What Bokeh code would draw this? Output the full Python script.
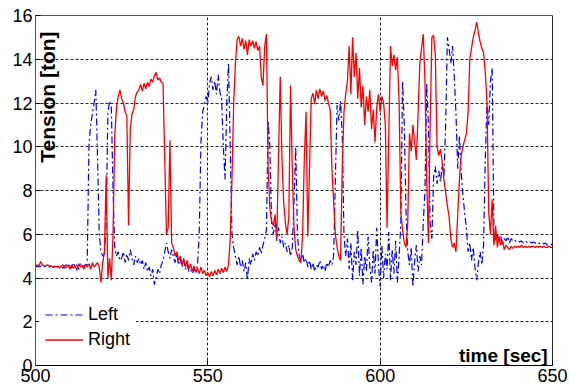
import math
import numpy as np
from bokeh.plotting import figure
from bokeh.models import Range1d, FixedTicker, Label, Span, ColumnDataSource
from bokeh.embed import file_html
from bokeh.resources import INLINE

# time base: samples every 0.5 s from 500 s
T_START = 500.0
T_STEP = 0.5

# Right line tension [ton], one row = 5 s
RIGHT = [
    4.55, 4.6, 4.55, 4.75, 4.6, 4.55, 4.55, 4.6, 4.55, 4.55,
    4.5, 4.55, 4.5, 4.55, 4.45, 4.55, 4.6, 4.45, 4.5, 4.6,
    4.4, 4.6, 4.45, 4.55, 4.35, 4.65, 4.5, 4.6, 4.4, 4.6,
    4.5, 4.65, 4.4, 4.7, 4.5, 4.6, 4.7, 4.5, 3.8, 4.7,
    5.2, 8.7, 4.0, 4.9, 3.9, 6.0, 10.5, 11.8, 12.3, 12.6,
    12.2, 12.0, 11.6, 11.4, 6.4, 10.8, 11.5, 11.7, 12.3, 12.5,
    12.6, 12.85, 12.55, 12.9, 12.65, 12.95, 12.75, 13.1, 12.95, 13.25,
    13.4, 13.05, 13.15, 12.95, 12.9, 9.4, 6.0, 6.3, 10.3, 5.6,
    5.4, 5.0, 5.2, 4.8, 5.0, 4.6, 4.9, 4.5, 4.8, 4.4,
    4.65, 4.3, 4.55, 4.25, 4.45, 4.2, 4.5, 4.2, 4.35, 4.1,
    4.25, 4.05, 4.3, 4.1, 4.35, 4.15, 4.4, 4.2, 4.45, 4.25,
    4.5, 4.3, 4.6, 5.8, 8.5, 12.0, 13.8, 14.9, 15.05, 14.6,
    14.95, 14.45, 14.85, 14.2, 14.9, 14.6, 14.85, 14.5, 14.8, 14.4,
    14.6, 13.2, 12.8, 14.6, 15.15, 9.0, 7.2, 6.6, 6.4, 6.9,
    5.8, 9.5, 13.2, 9.5, 7.5, 6.5, 6.0, 6.8, 12.8, 9.0,
    6.3, 5.3, 5.0, 4.8, 4.7, 6.0, 9.5, 11.6, 5.9, 9.0,
    12.2, 12.45, 11.95, 12.6, 12.2, 12.65, 12.3, 12.55, 12.1, 12.35,
    12.0, 11.7, 9.0, 7.5, 6.0, 5.4, 5.0, 4.8, 9.0, 11.6,
    12.4, 13.0, 14.6, 12.4, 15.0, 13.2, 14.3, 12.2, 13.6, 11.8,
    12.8, 11.0, 12.3, 11.6, 12.6, 10.8, 11.7, 10.2, 11.8, 12.4,
    11.6, 12.3, 12.0, 11.0, 6.3, 10.5, 14.6, 13.7, 14.2, 13.5,
    14.1, 12.0, 7.0, 6.2, 5.6, 5.4, 6.5, 10.6, 9.8, 11.0,
    10.2, 9.4, 11.5, 13.8, 14.5, 15.15, 13.0, 8.5, 5.6, 11.0,
    15.0, 15.1, 14.2, 10.0, 9.6, 9.9, 9.3, 8.5, 7.9, 7.3,
    6.8, 5.8, 5.4, 5.6, 5.2, 6.9, 8.5, 9.6, 10.0, 10.3,
    10.6, 11.5, 14.0, 14.5, 15.0, 15.3, 15.7, 15.2, 14.8, 14.5,
    14.3, 13.4, 12.0, 7.0, 6.0, 7.6, 5.5, 6.4, 5.4, 5.9,
    5.5, 5.7, 5.3, 5.5, 5.4, 5.3, 5.45, 5.35, 5.45, 5.4,
    5.45, 5.4, 5.5, 5.4, 5.45, 5.4, 5.45, 5.4, 5.45, 5.45,
    5.4, 5.45, 5.4, 5.45, 5.4, 5.45, 5.4, 5.4, 5.45, 5.4,
    5.4,
]

# Left line tension [ton], one row = 5 s
LEFT = [
    4.5, 4.55, 4.5, 4.55, 4.5, 4.5, 4.55, 4.5, 4.5, 4.55,
    4.5, 4.5, 4.45, 4.5, 4.55, 4.5, 4.45, 4.55, 4.6, 4.5,
    4.65, 4.45, 4.7, 4.5, 4.6, 4.4, 4.65, 4.5, 4.55, 4.6,
    4.6, 10.0, 11.0, 11.5, 12.0, 12.6, 9.5, 6.0, 5.2, 5.0,
    5.1, 6.5, 11.5, 12.1, 11.8, 8.0, 5.4, 5.0, 5.2, 4.8,
    4.9, 5.2, 4.7, 5.1, 4.8, 5.3, 4.9, 4.6, 5.0, 4.7,
    4.9, 4.6, 4.8, 4.4, 4.7, 4.3, 4.5, 4.1, 4.4, 3.7,
    4.0, 4.4, 4.2, 4.6, 4.8, 5.2, 5.6, 5.2, 4.9, 5.3,
    5.0, 4.7, 5.1, 4.6, 4.9, 4.5, 4.8, 4.4, 4.6, 4.3,
    4.4, 4.2, 4.4, 4.3, 4.6, 6.0, 10.2, 11.6, 11.9, 12.3,
    12.0, 12.9, 13.2, 12.6, 13.0, 12.4, 13.3, 12.5, 12.2, 10.0,
    8.5, 12.0, 13.8, 10.0, 6.0, 5.4, 5.0, 4.6, 5.0, 4.5,
    4.8, 4.3, 4.7, 3.9, 4.9, 4.6, 5.1, 4.8, 5.2, 5.0,
    5.4, 5.1, 5.5, 5.8, 6.2, 11.2, 10.0, 6.5, 6.0, 6.6,
    5.7, 6.3, 5.6, 5.9, 5.4, 5.6, 5.2, 5.5, 5.0, 5.4,
    7.5, 10.0, 6.0, 5.0, 4.8, 5.1, 4.7, 4.9, 4.5, 4.8,
    4.4, 4.7, 4.3, 4.6, 4.5, 4.8, 4.4, 4.6, 4.3, 4.7,
    4.5, 4.8, 4.6, 5.0, 8.5, 11.9, 11.2, 12.1, 10.5, 6.0,
    5.0, 5.8, 4.4, 5.6, 3.9, 5.2, 4.6, 6.2, 4.1, 5.4,
    3.7, 5.0, 4.3, 5.9, 4.5, 3.8, 5.3, 4.2, 6.3, 4.6,
    3.6, 5.5, 4.0, 5.1, 4.4, 6.1, 3.9, 5.3, 4.2, 5.7,
    3.8, 5.0, 6.5, 13.0, 11.0, 7.0, 5.2, 4.6, 5.4, 3.6,
    4.8, 5.5, 4.3, 5.0, 4.6, 6.5, 8.0, 12.9, 11.0, 6.5,
    5.8, 8.6, 9.1, 8.3, 8.9, 8.4, 9.2, 8.6, 11.0, 15.0,
    14.5, 13.8, 14.6, 13.2, 11.5, 9.0, 10.5, 8.8, 7.8, 7.0,
    6.3, 5.2, 5.6, 4.8, 5.4, 4.5, 3.9, 4.7, 5.2, 4.6,
    5.5, 9.5, 12.0, 11.0, 13.0, 13.6, 6.2, 5.7, 6.0, 5.6,
    5.9, 5.5, 5.8, 5.7, 5.9, 5.6, 5.8, 5.7, 5.75, 5.65,
    5.7, 5.65, 5.7, 5.6, 5.7, 5.65, 5.6, 5.65, 5.6, 5.65,
    5.6, 5.55, 5.6, 5.55, 5.6, 5.55, 5.6, 5.5, 5.55, 5.55,
    5.5,
]

X_TICKS = [500, 550, 600, 650]
Y_TICKS = [0, 2, 4, 6, 8, 10, 12, 14, 16]
SERIES_NAMES = ["Left", "Right"]
X_LABEL = "time [sec]"
Y_LABEL = "Tension [ton]"

t = T_START + T_STEP * np.arange(len(RIGHT))
src = ColumnDataSource(dict(t=t, left=np.array(LEFT), right=np.array(RIGHT)))

FONT = "Liberation Sans"

p = figure(width=581, height=390, output_backend="svg", toolbar_location=None,
           x_range=Range1d(500, 650), y_range=Range1d(0, 16),
           min_border_left=35, min_border_right=29, min_border_top=15,
           min_border_bottom=25)
p.background_fill_color = "white"
p.border_fill_color = "white"
p.outline_line_color = "#555555"
p.outline_line_width = 1

for ax in (p.xaxis[0], p.yaxis[0]):
    ax.major_label_text_font = FONT
    ax.major_label_text_font_size = "18px"
    ax.major_label_text_color = "black"
    ax.major_tick_in = 5
    ax.major_tick_out = 0
    ax.minor_tick_in = 0
    ax.minor_tick_out = 0
    ax.major_tick_line_color = "black"
p.xaxis.ticker = FixedTicker(ticks=X_TICKS)
p.yaxis.ticker = FixedTicker(ticks=Y_TICKS)
p.xaxis.axis_line_color = "black"
p.yaxis.axis_line_color = "#555555"
p.xaxis.major_label_standoff = 3
p.yaxis.major_label_standoff = 3

p.xgrid.ticker = FixedTicker(ticks=X_TICKS)
p.ygrid.ticker = FixedTicker(ticks=Y_TICKS)
for g in (p.xgrid[0], p.ygrid[0]):
    g.grid_line_color = "#000000"
    g.grid_line_alpha = 0.85
    g.grid_line_dash = "3 2"
    g.grid_line_width = 1

p.line("t", "left", source=src, line_color="#0000FF", line_width=1.2,
       line_dash="7 3 2 3", legend_label=SERIES_NAMES[0])
p.line("t", "right", source=src, line_color="#FF0000", line_width=1.3,
       legend_label=SERIES_NAMES[1])

p.add_layout(Span(location=650, dimension="height", line_color="black", line_width=1))

p.add_layout(Label(x=503.6, y=12.27, text=Y_LABEL, angle=math.pi / 2,
                   text_align="center", text_baseline="middle",
                   text_font=FONT, text_font_style="bold", text_font_size="21px",
                   text_color="black"))
p.add_layout(Label(x=648.6, y=0.46, text=X_LABEL, text_align="right",
                   text_baseline="alphabetic", text_font=FONT,
                   text_font_style="bold", text_font_size="19px",
                   text_color="black"))

lg = p.legend[0]
lg.location = (4, 9)
lg.border_line_alpha = 0
lg.background_fill_color = "white"
lg.background_fill_alpha = 1
lg.label_text_font = FONT
lg.label_text_font_size = "18px"
lg.label_text_color = "black"
lg.glyph_width = 38
lg.glyph_height = 21
lg.label_height = 21
lg.label_standoff = 5
lg.spacing = 4
lg.padding = 6
lg.margin = 0

open("out.html", "w").write(file_html(p, INLINE))
